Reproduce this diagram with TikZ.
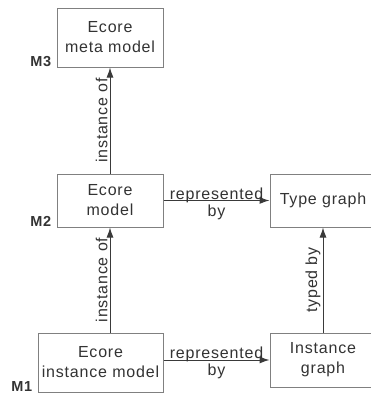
\documentclass[tikz,border=0pt]{standalone}
\usepackage{fontspec}
\setmainfont{Liberation Sans}[LetterSpace=5]
\usetikzlibrary{arrows.meta,positioning}
\definecolor{ink}{HTML}{333333}
\definecolor{frame}{HTML}{808080}
\definecolor{wire}{HTML}{3A3A3A}
\tikzset{
  every node/.style={font=\fontsize{16}{20}\selectfont,text=ink},
  box/.style={draw=frame,line width=1pt,align=center,inner sep=0pt},
  level/.style={font=\bfseries\fontsize{14.5}{16}\selectfont,anchor=south east,inner sep=0pt},
  rel/.style={-{Latex[length=10pt,width=7pt]},draw=wire,line width=1pt},
  lbl/.style={inner sep=2pt,font=\fontsize{16}{17}\selectfont,align=center},
}
\begin{document}
\begin{tikzpicture}[x=1pt,y=-1pt]
\useasboundingbox (0,0) rectangle (370,394);
\fill[white] (0,0) rectangle (370,394);
% metamodel levels on the left
\node[box,minimum width=106pt,minimum height=59pt] (meta) at (110,37.5) {Ecore\\meta model};
\node[box,minimum width=106pt,minimum height=53pt] (model) at (110,200.5) {Ecore\\model};
\node[box,minimum width=125pt,minimum height=59pt] (inst) at (100.5,362.5) {Ecore\\instance model};
% graph side on the right
\node[box,minimum width=106pt,minimum height=53pt] (tgraph) at (323,200.5) {Type graph};
\node[box,minimum width=106pt,minimum height=54pt] (igraph) at (323,360) {Instance\\graph};
% level tags
\node[level] (m3) at ([xshift=-5pt,yshift=1pt]meta.south west) {M3};
\node[level] (m2) at ([xshift=-5pt,yshift=1pt]model.south west) {M2};
\node[level] (m1) at ([xshift=-5pt,yshift=1pt]inst.south west) {M1};
% relations
\draw[rel] (model) -- node[lbl,sloped,above] {instance of} (meta);
\draw[rel] (model.south |- inst.north) -- node[lbl,sloped,above] {instance of} (model.south);
\draw[rel] (igraph) -- node[lbl,sloped,above] {typed by} (tgraph);
\draw[rel] (model) -- node[lbl,yshift=-3pt] {represented\\by} (tgraph);
\draw[rel] (inst.east |- igraph) -- node[lbl,yshift=-3pt] {represented\\by} (igraph);
\end{tikzpicture}
\end{document}
